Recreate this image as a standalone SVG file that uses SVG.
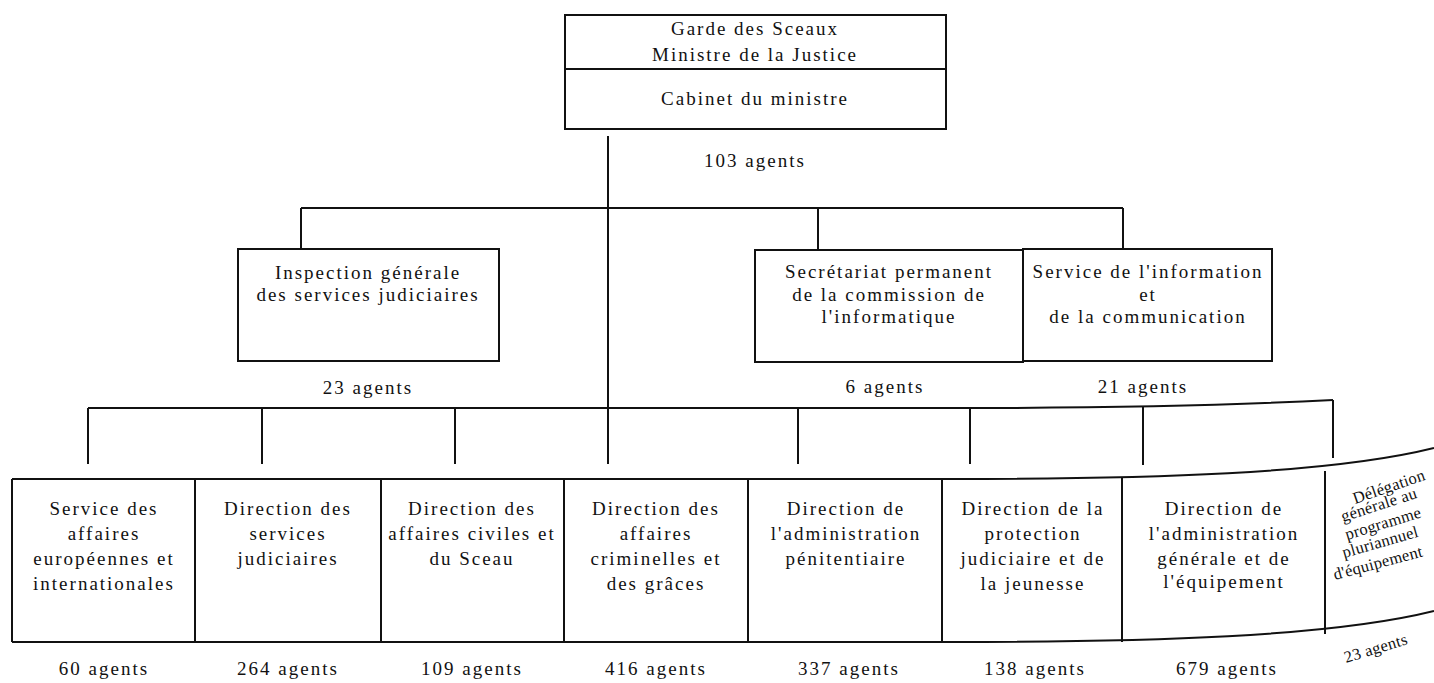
<svg xmlns="http://www.w3.org/2000/svg" width="1434" height="683" viewBox="0 0 1434 683">
<style>
.box{fill:none;stroke:#111;stroke-width:2}
.ln{fill:none;stroke:#111;stroke-width:2}
text{font-family:"Liberation Serif","Times New Roman",serif;font-size:19px;fill:#111;letter-spacing:2px;text-anchor:middle}
.dl{font-size:16.5px;letter-spacing:0.3px;text-anchor:start}
</style>
<rect width="1434" height="683" fill="#fff"/>
<g id="connectors">
<path class="ln" d="M608 136 V464"/>
<path class="ln" d="M301 208 H1123"/>
<path class="ln" d="M301 208 V249"/>
<path class="ln" d="M818 208 V250"/>
<path class="ln" d="M1123 208 V250"/>
<path class="ln" d="M88 408 H1000 Q1200 407 1333 400"/>
<path class="ln" d="M88 408 V464"/>
<path class="ln" d="M262 408 V464"/>
<path class="ln" d="M455 408 V464"/>
<path class="ln" d="M798 408 V464"/>
<path class="ln" d="M970 408 V464"/>
<path class="ln" d="M1143 407 V465"/>
<path class="ln" d="M1333 400 V458"/>
</g>
<g id="ministre">
<rect class="box" x="565" y="15" width="381" height="114"/>
<path class="ln" d="M565 69 H946"/>
<text x="755" y="35">Garde des Sceaux</text>
<text x="755" y="61">Ministre de la Justice</text>
<text x="755" y="105">Cabinet du ministre</text>
<text x="755" y="167">103 agents</text>
</g>
<g id="inspection">
<rect class="box" x="238" y="249" width="261" height="112"/>
<text x="368" y="279">Inspection générale</text>
<text x="368" y="301">des services judiciaires</text>
<text x="368" y="394">23 agents</text>
</g>
<g id="secretariat">
<rect class="box" x="755" y="250" width="268" height="112"/>
<text x="889" y="278">Secrétariat permanent</text>
<text x="889" y="301">de la commission de</text>
<text x="889" y="323">l'informatique</text>
<text x="885" y="393">6 agents</text>
</g>
<g id="sic">
<rect class="box" x="1023" y="249" width="249" height="112"/>
<text x="1148" y="278">Service de l'information</text>
<text x="1148" y="301">et</text>
<text x="1148" y="323">de la communication</text>
<text x="1143" y="393">21 agents</text>
</g>
<g id="row">
<path class="ln" d="M12 479 H950 C1150 479 1330 474 1434 448"/>
<path class="ln" d="M12 642 H950 C1150 642 1330 637 1434 611"/>
<path class="ln" d="M12 479 V642"/>
</g>
<g id="saei">
<path class="ln" d="M195 479 V642"/>
<text x="104" y="515">Service des</text>
<text x="104" y="540">affaires</text>
<text x="104" y="565">européennes et</text>
<text x="104" y="590">internationales</text>
<text x="104" y="675">60 agents</text>
</g>
<g id="dsj">
<path class="ln" d="M381 479 V642"/>
<text x="288" y="515">Direction des</text>
<text x="288" y="540">services</text>
<text x="288" y="565">judiciaires</text>
<text x="288" y="675">264 agents</text>
</g>
<g id="dacs">
<path class="ln" d="M564 479 V642"/>
<text x="472" y="515">Direction des</text>
<text x="472" y="540">affaires civiles et</text>
<text x="472" y="565">du Sceau</text>
<text x="472" y="675">109 agents</text>
</g>
<g id="dacg">
<path class="ln" d="M748 479 V642"/>
<text x="656" y="515">Direction des</text>
<text x="656" y="540">affaires</text>
<text x="656" y="565">criminelles et</text>
<text x="656" y="590">des grâces</text>
<text x="656" y="675">416 agents</text>
</g>
<g id="dap">
<path class="ln" d="M942 479 V642"/>
<text x="846" y="515">Direction de</text>
<text x="846" y="540">l'administration</text>
<text x="846" y="565">pénitentiaire</text>
<text x="849" y="675">337 agents</text>
</g>
<g id="dpjj">
<path class="ln" d="M1122 478 V642"/>
<text x="1033" y="515">Direction de la</text>
<text x="1033" y="540">protection</text>
<text x="1033" y="565">judiciaire et de</text>
<text x="1033" y="590">la jeunesse</text>
<text x="1035" y="675">138 agents</text>
</g>
<g id="dage">
<path class="ln" d="M1325 471 V634"/>
<text x="1224" y="515">Direction de</text>
<text x="1224" y="540">l'administration</text>
<text x="1224" y="565">générale et de</text>
<text x="1224" y="588">l'équipement</text>
<text x="1227" y="675">679 agents</text>
</g>
<g id="dgppe">
<text class="dl" transform="translate(1355 504) rotate(-19)">Délégation</text>
<text class="dl" transform="translate(1343 522) rotate(-18)">générale au</text>
<text class="dl" transform="translate(1347 540) rotate(-17)">programme</text>
<text class="dl" transform="translate(1344 558) rotate(-16)">pluriannuel</text>
<text class="dl" transform="translate(1335 580) rotate(-15)">d'équipement</text>
<text class="dl" transform="translate(1346 663) rotate(-17)">23 agents</text>
</g>
</svg>
